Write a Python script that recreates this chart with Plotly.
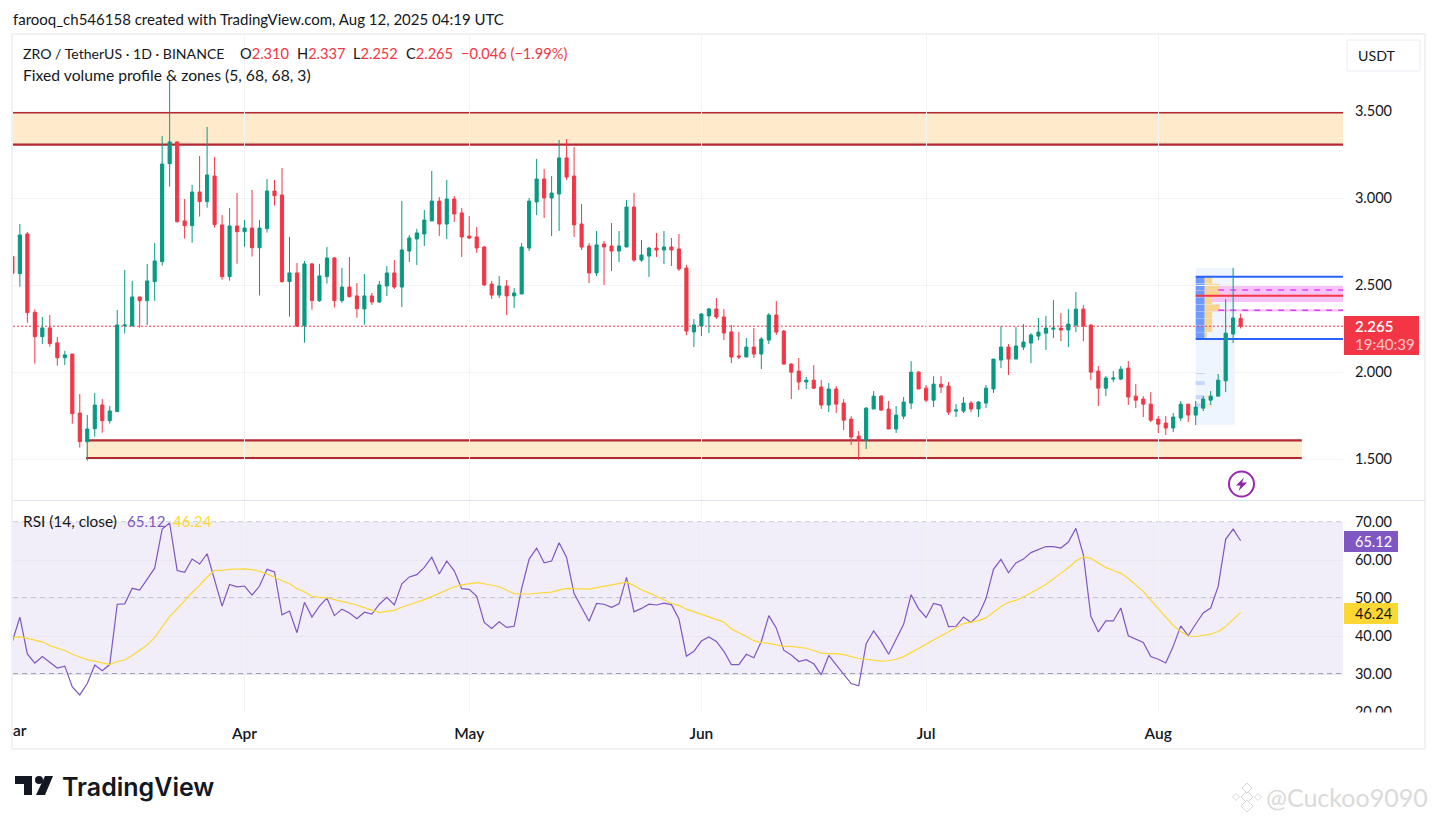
#!/usr/bin/env python3
"""ZRO / USDT daily chart with zones, fixed volume profile and RSI pane."""

from __future__ import annotations

import pandas as pd
import plotly.graph_objects as go

W, H = 1438, 824
FONT = "Lato"
DARK = "#131722"
UP = "#089981"
DOWN = "#F23645"
ZONE_LINE = "#B22833"
GRID = "#F2F3F5"
RSI_LINE = "#7E57C2"
RSI_MA = "#FDD835"

first_day = "2025-03-01"

opens = [
    2.665, 2.567, 2.795, 2.345, 2.205, 2.255, 2.169, 2.084, 2.105, 1.766,
    1.601, 1.676, 1.812, 1.722, 1.774, 2.268, 2.266, 2.433, 2.412, 2.521,
    2.636, 3.199, 3.324, 2.870, 2.843, 3.036, 2.981, 3.128, 2.847, 2.550, 2.841,
    2.808, 2.829, 2.716, 2.826, 3.042, 3.019, 2.521, 2.571, 2.268, 2.623,
    2.412, 2.550, 2.657, 2.412, 2.490, 2.439, 2.364, 2.439, 2.404, 2.496,
    2.571, 2.490, 2.697, 2.766, 2.795, 2.870, 2.984, 2.852, 2.996, 2.916,
    2.783, 2.778, 2.720, 2.507, 2.444, 2.496, 2.439, 2.450, 2.714, 2.979,
    3.111, 3.002, 3.025, 3.232, 3.128, 2.852, 2.726, 2.571, 2.737, 2.726,
    2.697, 2.720, 2.950, 2.645, 2.668, 2.714, 2.703, 2.720, 2.709, 2.599, 2.232,
    2.266, 2.324, 2.364, 2.318, 2.232, 2.094, 2.088, 2.145, 2.105, 2.185,
    2.329, 2.237, 2.047, 2.007, 1.944, 1.955, 1.915, 1.812, 1.904, 1.823,
    1.731, 1.633, 1.610, 1.789, 1.863, 1.789, 1.674, 1.748, 1.823, 2.001,
    1.909, 1.840, 1.932, 1.921, 1.777, 1.777, 1.823, 1.789, 1.823, 1.904,
    2.070, 2.145, 2.076, 2.145, 2.168, 2.208, 2.225, 2.248, 2.254, 2.243,
    2.271, 2.363, 2.271, 2.007, 1.909, 1.961, 1.961, 2.024, 1.863, 1.846, 1.817,
    1.731, 1.708, 1.680, 1.737, 1.817, 1.754, 1.794, 1.840, 1.863, 1.951, 2.220, 2.310,
]
highs = [
    2.700, 2.852, 2.806, 2.362, 2.318, 2.329, 2.203, 2.123, 2.105, 1.875,
    1.755, 1.881, 1.847, 1.806, 2.358, 2.588, 2.525, 2.433, 2.623, 2.743,
    3.358, 3.674, 3.324, 2.996, 3.077, 3.243, 3.410, 3.237, 2.904, 2.944, 3.031,
    2.875, 3.048, 2.875, 3.111, 3.105, 3.174, 2.778, 2.628, 2.640, 2.628,
    2.623, 2.720, 2.663, 2.600, 2.663, 2.513, 2.565, 2.456, 2.525, 2.611,
    2.645, 2.984, 2.789, 2.824, 2.933, 3.157, 3.007, 3.105, 3.013, 2.944,
    2.898, 2.835, 2.726, 2.525, 2.553, 2.530, 2.484, 2.743, 3.002, 3.226,
    3.168, 3.128, 3.335, 3.341, 3.295, 2.967, 2.743, 2.812, 2.755, 2.858,
    2.812, 2.990, 3.030, 2.760, 2.720, 2.801, 2.812, 2.772, 2.795, 2.617, 2.306,
    2.341, 2.370, 2.427, 2.364, 2.272, 2.232, 2.197, 2.255, 2.202, 2.340,
    2.409, 2.243, 2.053, 2.082, 1.973, 2.041, 1.955, 1.938, 1.921, 1.846,
    1.748, 1.662, 1.800, 1.892, 1.869, 1.835, 1.806, 1.858, 2.064, 2.007,
    1.927, 1.978, 1.978, 1.944, 1.817, 1.858, 1.835, 1.835, 1.927, 2.076,
    2.266, 2.162, 2.260, 2.277, 2.225, 2.312, 2.323, 2.415, 2.340, 2.363,
    2.461, 2.386, 2.277, 2.036, 1.978, 2.007, 2.036, 2.064, 1.932, 1.863, 1.886,
    1.748, 1.748, 1.766, 1.835, 1.817, 1.835, 1.863, 1.892, 1.990, 2.421, 2.599, 2.337,
]
lows = [
    2.550, 2.492, 2.285, 2.050, 2.163, 2.147, 2.038, 2.042, 1.705, 1.567,
    1.492, 1.630, 1.653, 1.705, 1.772, 2.222, 2.266, 2.257, 2.272, 2.412,
    2.613, 3.067, 2.860, 2.768, 2.745, 2.895, 2.946, 2.831, 2.532, 2.527, 2.624,
    2.722, 2.665, 2.441, 2.803, 2.958, 2.515, 2.320, 2.259, 2.170, 2.360,
    2.404, 2.510, 2.372, 2.400, 2.429, 2.314, 2.274, 2.387, 2.398, 2.439,
    2.479, 2.375, 2.634, 2.617, 2.726, 2.870, 2.783, 2.766, 2.864, 2.663,
    2.765, 2.686, 2.496, 2.421, 2.427, 2.329, 2.370, 2.450, 2.697, 2.904,
    2.887, 2.783, 2.812, 3.105, 2.778, 2.703, 2.513, 2.553, 2.502, 2.582,
    2.634, 2.720, 2.634, 2.634, 2.548, 2.663, 2.622, 2.611, 2.582, 2.214, 2.145,
    2.209, 2.226, 2.306, 2.186, 2.053, 2.076, 2.088, 2.082, 2.019, 2.162,
    2.214, 2.047, 1.846, 1.898, 1.904, 1.904, 1.789, 1.771, 1.766, 1.668,
    1.582, 1.496, 1.559, 1.789, 1.777, 1.674, 1.651, 1.731, 1.789, 1.904,
    1.829, 1.800, 1.881, 1.754, 1.743, 1.766, 1.771, 1.743, 1.794, 1.881,
    2.024, 1.984, 2.076, 2.128, 2.053, 2.185, 2.128, 2.197, 2.179, 2.145,
    2.231, 2.179, 1.955, 1.806, 1.863, 1.944, 1.955, 1.812, 1.794, 1.743, 1.714,
    1.651, 1.639, 1.656, 1.720, 1.714, 1.697, 1.777, 1.812, 1.863, 1.886, 2.168, 2.252,
]
closes = [
    2.569, 2.789, 2.343, 2.205, 2.255, 2.165, 2.084, 2.100, 1.762, 1.601,
    1.674, 1.812, 1.722, 1.778, 2.272, 2.272, 2.433, 2.412, 2.525, 2.640,
    3.197, 3.324, 2.866, 2.843, 3.036, 2.981, 3.134, 2.849, 2.550, 2.841, 2.808,
    2.829, 2.716, 2.829, 3.042, 3.015, 2.521, 2.571, 2.266, 2.623, 2.412,
    2.554, 2.657, 2.412, 2.490, 2.435, 2.366, 2.439, 2.404, 2.502, 2.571,
    2.490, 2.703, 2.772, 2.801, 2.875, 2.984, 2.852, 2.996, 2.910, 2.778,
    2.772, 2.714, 2.502, 2.444, 2.496, 2.439, 2.456, 2.720, 2.984, 3.111,
    3.002, 3.030, 3.232, 3.122, 2.847, 2.720, 2.571, 2.732, 2.720, 2.697,
    2.726, 2.950, 2.645, 2.674, 2.714, 2.703, 2.720, 2.703, 2.594, 2.237, 2.272,
    2.335, 2.364, 2.318, 2.226, 2.088, 2.088, 2.145, 2.105, 2.191, 2.329,
    2.231, 2.047, 2.001, 1.944, 1.955, 1.909, 1.812, 1.904, 1.817, 1.725,
    1.628, 1.610, 1.794, 1.863, 1.783, 1.674, 1.754, 1.829, 2.001, 1.904,
    1.840, 1.932, 1.915, 1.771, 1.783, 1.823, 1.789, 1.829, 1.909, 2.076,
    2.145, 2.076, 2.151, 2.174, 2.214, 2.231, 2.254, 2.254, 2.243, 2.277,
    2.363, 2.266, 2.001, 1.909, 1.967, 1.967, 2.018, 1.858, 1.840, 1.817, 1.725,
    1.702, 1.680, 1.743, 1.817, 1.754, 1.800, 1.846, 1.863, 1.955, 2.225, 2.312, 2.265,
]
rsi = [
    38.6, 45.0, 35.3, 32.9, 34.6, 33.0, 31.6, 32.1, 26.6, 24.5,
    27.5, 32.4, 30.9, 32.5, 48.4, 48.5, 52.6, 52.1, 54.9, 57.9,
    68.2, 69.8, 57.3, 56.8, 60.3, 59.0, 61.7, 54.6, 47.9, 53.6, 53.0,
    53.2, 50.8, 53.2, 57.6, 56.9, 45.6, 46.6, 40.9, 48.9, 45.0,
    47.9, 50.0, 45.4, 47.1, 46.1, 44.6, 46.3, 45.8, 48.4, 50.2,
    48.2, 53.8, 55.6, 56.2, 58.1, 60.8, 56.4, 59.8, 57.2, 52.5,
    52.3, 50.5, 43.6, 42.0, 43.8, 42.3, 42.6, 52.6, 60.3, 63.2,
    59.3, 59.8, 64.6, 60.7, 51.2, 47.6, 43.9, 48.6, 48.4, 47.6,
    48.5, 55.5, 46.4, 47.3, 48.4, 48.2, 48.7, 48.3, 44.5, 34.7, 36.0,
    38.7, 39.8, 38.6, 36.0, 32.5, 32.5, 35.2, 34.3, 38.6, 45.4,
    42.1, 36.3, 35.0, 33.3, 33.8, 32.7, 29.8, 34.9, 32.4, 29.9,
    27.5, 26.9, 38.0, 41.4, 38.6, 35.2, 39.0, 43.1, 50.9, 47.2,
    44.9, 48.6, 48.1, 42.5, 42.6, 45.0, 43.6, 45.5, 49.9, 57.6,
    60.2, 56.7, 59.3, 60.3, 62.0, 62.7, 63.6, 63.6, 63.2, 64.8,
    68.4, 61.4, 45.2, 41.1, 44.0, 44.0, 47.4, 40.1, 39.2, 38.3, 34.6,
    33.9, 32.9, 37.3, 42.7, 40.1, 43.2, 46.1, 47.4, 53.1, 65.5, 68.2, 65.12,
]
rsi_ma = [
    39.6, 39.8, 39.4, 38.9, 38.5, 37.5, 36.9, 36.2, 35.2, 34.5,
    33.8, 33.4, 33.0, 32.5, 33.3, 33.7, 34.9, 36.3, 37.7, 39.6,
    42.4, 45.2, 47.2, 49.5, 51.5, 53.4, 55.5, 57.3, 57.3, 57.6, 57.7,
    57.7, 57.5, 57.1, 56.4, 55.4, 54.6, 53.8, 52.5, 51.7, 50.5,
    50.2, 50.1, 49.6, 49.2, 48.6, 48.2, 47.5, 46.8, 46.2, 46.5,
    46.8, 47.6, 48.2, 48.9, 49.6, 50.4, 51.2, 52.1, 53.0, 53.5,
    53.9, 54.1, 53.8, 53.3, 53.0, 52.1, 51.2, 51.1, 51.1, 51.3,
    51.5, 51.6, 52.1, 52.6, 52.5, 52.4, 52.4, 52.8, 53.2, 53.5,
    53.9, 54.2, 53.3, 52.2, 51.4, 50.6, 49.6, 48.6, 48.1, 47.1, 46.4,
    45.7, 45.1, 44.5, 43.7, 41.9, 41.0, 39.9, 38.8, 38.3, 38.1,
    37.7, 37.3, 37.3, 37.1, 36.8, 36.2, 35.5, 35.4, 35.4, 35.1,
    34.5, 34.1, 33.9, 33.7, 33.4, 33.5, 33.9, 34.6, 35.7, 36.8,
    37.9, 39.0, 40.2, 41.1, 42.4, 43.3, 43.7, 44.1, 44.8, 46.3,
    47.8, 48.9, 49.4, 50.3, 51.5, 52.5, 53.6, 55.2, 56.6, 58.0,
    59.8, 60.9, 60.5, 59.3, 58.1, 57.3, 56.6, 55.2, 53.5, 51.8, 49.5,
    47.2, 44.9, 42.8, 41.2, 40.1, 39.9, 40.3, 40.5, 41.2, 42.5, 44.4, 46.24,
]

price_ticks = [1.5, 2.0, 2.5, 3.0, 3.5]
rsi_ticks = [20, 30, 40, 50, 60, 70]
month_ticks = ["2025-04-01", "2025-05-01", "2025-06-01", "2025-07-01", "2025-08-01"]
month_labels = ["Apr", "May", "Jun", "Jul", "Aug"]

last_price = 2.265
upper_zone = [3.308, 3.494]
lower_zone = [1.507, 1.609]
profile_top = 2.549
profile_bottom = 2.191
profile_poc = 2.440
value_band = [2.404, 2.496]
value_thin_band = [2.350, 2.363]
value_dashes = [2.473, 2.356]

# fixed range volume profile rows, widths in days
row_lows = [2.511, 2.471, 2.431, 2.392, 2.352, 2.312, 2.272, 2.232, 2.192, 1.990, 1.927, 1.846, 1.798]
row_highs = [2.549, 2.509, 2.469, 2.429, 2.390, 2.350, 2.310, 2.270, 2.230, 2.001, 1.950, 1.869, 1.821]
row_buy = [1.2, 1.2, 1.2, 1.2, 1.2, 1.2, 1.2, 1.2, 1.2, 1.2, 1.2, 1.2, 1.2]
row_sell = [1.0, 2.0, 2.0, 1.0, 2.0, 1.0, 1.0, 1.0, 0.3, 0.0, 0.0, 1.0, 1.0]

days = pd.date_range(first_day, periods=len(closes), freq="D")
x_start = pd.Timestamp("2025-03-01 02:00")
x_end = pd.Timestamp("2025-08-25 16:00")
lower_start = pd.Timestamp("2025-03-10 20:00")
lower_end = pd.Timestamp("2025-08-20 04:00")
profile_start = pd.Timestamp("2025-08-06")
profile_end = pd.Timestamp("2025-08-11 05:00")


def px(x: float) -> float:
    return x / W


def py(y: float) -> float:
    return 1 - y / H


def paper_poly(points: list[tuple[float, float]]) -> str:
    coords = [f"{px(x):.5f},{py(y):.5f}" for x, y in points]
    return "M" + " L".join(coords) + " Z"


def label(x, y, text, size=15, color=DARK, anchor="left", **kw) -> dict:
    font = {"family": kw.pop("family", FONT), "size": size, "color": color}
    if "weight" in kw:
        font["weight"] = kw.pop("weight")
    return dict(
        x=px(x - 2), y=py(y), xref="paper", yref="paper", text=text, showarrow=False,
        xanchor=anchor, yanchor="middle", align=anchor, font=font, **kw,
    )


def data_rect(x0, x1, y0, y1, color, yaxis="y", xaxis="x") -> dict:
    return dict(
        type="rect", xref=xaxis, yref=yaxis, x0=x0, x1=x1, y0=y0, y1=y1,
        fillcolor=color, line={"width": 0}, layer="below",
    )


def data_line(x0, x1, y, color, width=2, dash="solid", yaxis="y", xaxis="x") -> dict:
    return dict(
        type="line", xref=xaxis, yref=yaxis, x0=x0, x1=x1, y0=y, y1=y,
        line={"color": color, "width": width, "dash": dash}, layer="below",
    )


fig = go.Figure()
fig.add_trace(
    go.Candlestick(
        x=days, open=opens, high=highs, low=lows, close=closes,
        increasing={"line": {"color": UP, "width": 1}, "fillcolor": UP},
        decreasing={"line": {"color": DOWN, "width": 1}, "fillcolor": DOWN},
        whiskerwidth=0, showlegend=False, hoverinfo="skip",
    )
)
fig.add_trace(
    go.Scatter(x=days, y=rsi, mode="lines", line={"color": RSI_LINE, "width": 1.2},
               xaxis="x2", yaxis="y2", showlegend=False, hoverinfo="skip")
)
fig.add_trace(
    go.Scatter(x=days, y=rsi_ma, mode="lines", line={"color": RSI_MA, "width": 1.2},
               xaxis="x2", yaxis="y2", showlegend=False, hoverinfo="skip")
)

shapes = []
# zones
shapes.append(data_rect(x_start, x_end, upper_zone[0], upper_zone[1], "rgba(255,152,0,0.2)"))
shapes.append(data_line(x_start, x_end, upper_zone[0], ZONE_LINE, 2.2))
shapes.append(data_line(x_start, x_end, upper_zone[1], ZONE_LINE, 2.2))
shapes.append(data_rect(lower_start, lower_end, lower_zone[0], lower_zone[1], "rgba(255,152,0,0.2)"))
shapes.append(data_line(lower_start, lower_end, lower_zone[0], ZONE_LINE, 2.2))
shapes.append(data_line(lower_start, lower_end, lower_zone[1], ZONE_LINE, 2.2))
# volume profile
shapes.append(data_rect(profile_start, profile_end, 1.699, 2.599, "#EFF5FE"))
shapes.append(data_rect(profile_start, x_end, value_band[0], value_band[1], "#F6C3F6"))
shapes.append(data_rect(profile_start, x_end, value_thin_band[0], value_thin_band[1], "#F6C3F6"))
for low, high, buy, sell in zip(row_lows, row_highs, row_buy, row_sell):
    strong = low > profile_bottom
    mid = profile_start + pd.Timedelta(days=buy)
    shapes.append(data_rect(profile_start, mid, low, high, "#6C9AFF" if strong else "#C6D8FD"))
    if sell:
        end = mid + pd.Timedelta(days=sell)
        shapes.append(data_rect(mid, end, low, high, "#F7D58F" if strong else "#FBE8D2"))
for level in value_dashes:
    shapes.append(data_line(pd.Timestamp("2025-08-09"), x_end, level, "#E040FB", 1.5, "6px,6px"))
shapes.append(data_line(profile_start, x_end, profile_top, "#2962FF"))
shapes.append(data_line(profile_start, x_end, profile_bottom, "#2962FF"))
shapes.append(data_line(profile_start, x_end, profile_poc, DOWN))
shapes.append(data_line(x_start, x_end, last_price, DOWN, 1, "2px,2px"))
# rsi band
shapes.append(data_rect(x_start, x_end, 30, 70, "rgba(126,87,194,0.1)", "y2", "x2"))
shapes.append(data_line(x_start, x_end, 70, "#555864", 1.2, "5px,4px", "y2", "x2"))
shapes.append(data_line(x_start, x_end, 50, "rgba(120,123,134,0.7)", 1.2, "5px,4px", "y2", "x2"))
shapes.append(data_line(x_start, x_end, 30, "#555864", 1.2, "5px,4px", "y2", "x2"))

# chart frame and pane separator
frame = "#F0F1F4"
for x0, y0, x1, y1 in [(12, 34, 1425, 34), (12, 749, 1425, 749), (12, 34, 12, 749), (1425, 34, 1425, 749)]:
    shapes.append(dict(type="line", xref="paper", yref="paper", x0=px(x0), x1=px(x1), y0=py(y0), y1=py(y1),
                       line={"color": frame, "width": 2}, layer="above"))
shapes.append(dict(type="line", xref="paper", yref="paper", x0=px(13), x1=px(1425), y0=py(500.5), y1=py(500.5),
                   line={"color": "#E0E3EB", "width": 1}, layer="above"))
# currency button
shapes.append(dict(type="rect", xref="paper", yref="paper", x0=px(1347), x1=px(1420), y0=py(71), y1=py(40),
                   line={"color": "#E9ECF2", "width": 1}, fillcolor="white", layer="above"))
# last price tag
shapes.append(dict(type="rect", xref="paper", yref="paper", x0=px(1344), x1=px(1419), y0=py(355), y1=py(316),
                   line={"width": 0}, fillcolor=DOWN, layer="above"))
# rsi tags
shapes.append(dict(type="rect", xref="paper", yref="paper", x0=px(1344), x1=px(1398), y0=py(552), y1=py(531),
                   line={"width": 0}, fillcolor=RSI_LINE, layer="above"))
shapes.append(dict(type="rect", xref="paper", yref="paper", x0=px(1344), x1=px(1398), y0=py(624), y1=py(603),
                   line={"width": 0}, fillcolor=RSI_MA, layer="above"))
# hides the lower half of the 20.00 tick, cut by the time pane
shapes.append(dict(type="rect", xref="paper", yref="paper", x0=px(1344), x1=px(1424), y0=py(725), y1=py(712.5),
                   line={"width": 0}, fillcolor="white", layer="above"))
# alert icon
shapes.append(dict(type="circle", xref="paper", yref="paper", x0=px(1229), x1=px(1254), y0=py(496.5), y1=py(471.5),
                   line={"color": "#9C27B0", "width": 2}, fillcolor="white", layer="above"))
shapes.append(dict(type="path", xref="paper", yref="paper", layer="above", fillcolor="#8E24AA", line={"width": 0},
                   path=paper_poly([(1244, 477.5), (1236, 485.5), (1240.5, 485.5), (1238.5, 491), (1247, 482.5), (1242, 482.5)])))
# logo
for pts in (
    [(15, 776), (32, 776), (32, 795), (24, 795), (24, 784), (15, 784)],
    [(45, 776), (53, 776), (45, 795), (36, 795)],
):
    shapes.append(dict(type="path", xref="paper", yref="paper", layer="above", fillcolor=DARK, line={"width": 0},
                       path=paper_poly(pts)))
shapes.append(dict(type="circle", xref="paper", yref="paper", layer="above", fillcolor=DARK, line={"width": 0},
                   x0=px(35), x1=px(43), y0=py(784), y1=py(776)))
# watermark mark
for cx, cy, r in [(1247, 797, 6), (1236, 797, 3.5), (1258, 797, 3.5), (1247, 788, 5), (1247, 806, 6)]:
    shapes.append(dict(type="path", xref="paper", yref="paper", layer="above", fillcolor="white",
                       line={"color": "#D8D8D8", "width": 1},
                       path=paper_poly([(cx, cy - r), (cx + r, cy), (cx, cy + r), (cx - r, cy)])))

red = f'<span style="color:{DOWN}">'
annotations = [
    label(13, 19, "farooq_ch546158 created with TradingView.com, Aug 12, 2025 04:19 UTC"),
    label(23, 54, "ZRO / TetherUS · 1D · BINANCE", 14.1),
    label(240, 54, f"O{red}2.310</span>", 14.6),
    label(296.5, 54, f"H{red}2.337</span>", 14.6),
    label(353, 54, f"L{red}2.252</span>", 14.6),
    label(405.5, 54, f"C{red}2.265</span>", 14.6),
    label(461, 54, f"{red}−0.046 (−1.99%)</span>", 14.6),
    label(23, 75, "Fixed volume profile &amp; zones (5, 68, 68, 3)", 15.7),
    label(23, 521, "RSI (14, close)", 15.4),
    label(127, 521, "65.12", 15, RSI_LINE),
    label(173, 521, "46.24", 15, RSI_MA),
    label(1378, 55, "USDT", 14.2, anchor="center"),
    label(13, 730, "ar", 15.5, weight=600),
    label(1355, 326, "2.265", 15, "white", weight=600),
    label(1355, 344, "19:40:39", 15, "#FBC7CC"),
    label(1355, 541.5, "65.12", 14.5, "white"),
    label(1355, 613.5, "46.24", 14.5, DARK),
    label(62, 786.5, "TradingView", 25, DARK, family="Inter", weight=600),
    label(1266, 797, "@Cuckoo9090", 25, "#DADADA"),
]

fig.update_layout(
    autosize=False,
    # the page shows the figure 8px shorter than asked
    width=W, height=H + 8, paper_bgcolor="white", plot_bgcolor="white",
    margin={"l": 0, "r": 0, "t": 0, "b": 0},
    font={"family": FONT, "size": 14, "color": DARK},
    showlegend=False, shapes=shapes, annotations=annotations, boxgap=0.4,
    xaxis=dict(
        domain=[px(13), px(1343)], range=[x_start, x_end], anchor="y", type="date",
        rangeslider={"visible": False}, tickvals=month_ticks, ticktext=[""] * 5,
        showgrid=True, gridcolor=GRID, gridwidth=1, zeroline=False, showline=False, ticklen=0,
    ),
    yaxis=dict(
        domain=[py(500), py(34)], range=[1.5 + (459.3 - 500) / 174, 1.5 + (459.3 - 34) / 174],
        side="right", anchor="x", tickvals=price_ticks, tickformat=".3f",
        showgrid=True, gridcolor=GRID, gridwidth=1, zeroline=False, showline=False,
        ticks="outside", ticklen=8, tickcolor="rgba(0,0,0,0)", tickfont={"size": 14.5},
    ),
    xaxis2=dict(
        domain=[px(13), px(1343)], range=[x_start, x_end], anchor="y2", type="date",
        tickvals=month_ticks, ticktext=month_labels, showgrid=True, gridcolor=GRID, gridwidth=1,
        zeroline=False, showline=False, ticks="outside", ticklen=7, tickcolor="rgba(0,0,0,0)",
        tickfont={"size": 15.5, "weight": 600},
    ),
    yaxis2=dict(
        domain=[py(712), py(501)], range=[20, 70 + (522.3 - 501) / 3.8],
        side="right", anchor="x2", tickvals=rsi_ticks, tickformat=".2f",
        showgrid=True, gridcolor="#E9E8F0", gridwidth=1, zeroline=False, showline=False,
        ticks="outside", ticklen=8, tickcolor="rgba(0,0,0,0)", tickfont={"size": 14.5},
    ),
)

fig.write_html(
    "out.html",
    config={"displayModeBar": False},
    post_script="document.body.style.margin='0';",
)
